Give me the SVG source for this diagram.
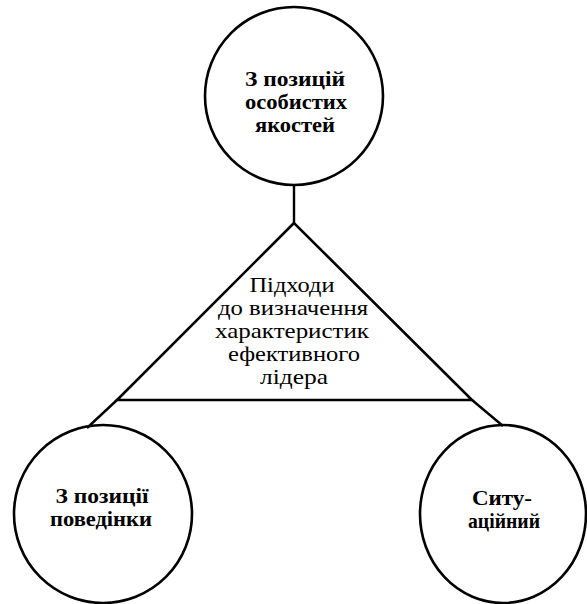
<svg xmlns="http://www.w3.org/2000/svg" width="587" height="604" viewBox="0 0 587 604">
<style>
.shape{fill:none;stroke:#000;stroke-width:2.6}
.line{fill:none;stroke:#000;stroke-width:2.4}
.t{font-family:"Liberation Serif","Times New Roman",serif;font-size:21px;text-anchor:middle;fill:#000}
.b{font-weight:bold}
</style>
<rect width="587" height="604" fill="#fff"/>
<g id="connectors">
<line class="line" x1="294" y1="186" x2="294" y2="223"/>
<line class="line" x1="117" y1="400" x2="87" y2="428"/>
<line class="line" x1="472" y1="400" x2="503" y2="426"/>
</g>
<g id="center">
<polygon class="shape" points="294,223 117,400 472,400"/>
<text class="t" x="292" y="292" textLength="85" lengthAdjust="spacingAndGlyphs">Підходи</text>
<text class="t" x="293" y="315" textLength="150" lengthAdjust="spacingAndGlyphs">до визначення</text>
<text class="t" x="292" y="338" textLength="154" lengthAdjust="spacingAndGlyphs">характеристик</text>
<text class="t" x="294" y="361" textLength="132" lengthAdjust="spacingAndGlyphs">ефективного</text>
<text class="t" x="294" y="384" textLength="68" lengthAdjust="spacingAndGlyphs">лідера</text>
</g>
<g id="top">
<circle class="shape" cx="294" cy="96" r="89"/>
<text class="t b" x="295" y="86" textLength="100" lengthAdjust="spacingAndGlyphs">З позицій</text>
<text class="t b" x="296" y="109" textLength="102" lengthAdjust="spacingAndGlyphs">особистих</text>
<text class="t b" x="295" y="132" textLength="80" lengthAdjust="spacingAndGlyphs">якостей</text>
</g>
<g id="left">
<circle class="shape" cx="103" cy="514" r="89"/>
<text class="t b" x="102" y="503" textLength="93" lengthAdjust="spacingAndGlyphs">З позиції</text>
<text class="t b" x="101" y="526" textLength="102" lengthAdjust="spacingAndGlyphs">поведінки</text>
</g>
<g id="right">
<ellipse class="shape" cx="503" cy="514" rx="83" ry="89"/>
<text class="t b" x="502" y="505" textLength="60" lengthAdjust="spacingAndGlyphs">Ситу-</text>
<text class="t b" x="504" y="528" textLength="72" lengthAdjust="spacingAndGlyphs">аційний</text>
</g>
</svg>
